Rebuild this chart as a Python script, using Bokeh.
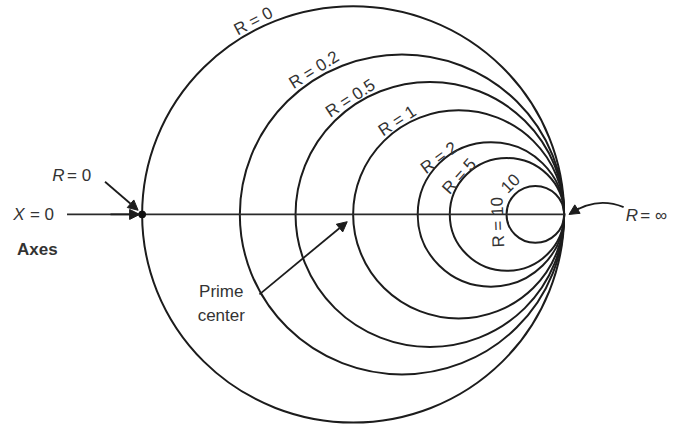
import numpy as np
from bokeh.plotting import figure
from bokeh.models import Range1d, Arrow, NormalHead, ColumnDataSource
from bokeh.core.properties import value
from bokeh.embed import file_html
from bokeh.resources import INLINE

# ---------------- data ----------------
# constant-resistance circles: all touch the axis at the right (R = inf point)
resistance = [0, 0.2, 0.5, 1, 2, 5, 10]
# left crossing of each circle with the X = 0 axis (normalised, outer circle = -1)
axis_crossing = [-1.0, -0.537, -0.273, 0.0, 0.306, 0.458, 0.727]
tangent_point = 1.0
circle_labels = ["R = 0", "R = 0.2", "R = 0.5", "R = 1", "R = 2", "R = 5", "R = 10"]
extra_label = "10"

# ---------------- layout / style ----------------
label_angle = [117, 121, 124, 123, 132, 141, 192]      # polar angle on the circle
label_gap = [0.042, 0.042, 0.037, 0.035, 0.020, 0.020, 0.045]
label_rot = [28, 32, 33, 33, 37, 48, 92]

FONT = value("Liberation Sans")
FS = value("17px")
TXT = "#333333"
INK = "#1c1c1c"

cx = [(a + tangent_point) / 2 for a in axis_crossing]
rr = [(tangent_point - a) / 2 for a in axis_crossing]

p = figure(width=675, height=424, output_backend="svg", toolbar_location=None,
           x_range=Range1d(-1.6713, 1.5278), y_range=Range1d(-1.0093, 1.0278),
           x_axis_location=None, y_axis_location=None, min_border=0,
           outline_line_color=None, background_fill_color="white")
p.grid.visible = False

# circles
src = ColumnDataSource(dict(x=cx, y=[0] * len(cx), w=[2 * r for r in rr]))
p.ellipse(x="x", y="y", width="w", height="w", source=src, fill_color=None,
          line_color=INK, line_width=2)

# axis line X = 0
p.line([-1.356, tangent_point], [0, 0], line_color="#2a2a2a", line_width=1.8)
p.scatter([axis_crossing[0]], [0], size=7, color="#111111")

# circle labels
lx, ly = [], []
for c, r, th, g in zip(cx, rr, label_angle, label_gap):
    t = np.radians(th)
    lx.append(c + (r + g) * np.cos(t))
    ly.append((r + g) * np.sin(t))
lsrc = ColumnDataSource(dict(x=lx, y=ly, text=circle_labels, a=label_rot))
p.text(x="x", y="y", text="text", angle="a", angle_units="deg", source=lsrc,
       text_font=FONT, text_font_size=FS, text_color=TXT,
       text_align="center", text_baseline="middle")
# second "10" on the innermost circle
t = np.radians(128.5)
p.text(x=[cx[-1] + (rr[-1] + 0.055) * np.cos(t)], y=[(rr[-1] + 0.055) * np.sin(t)],
       text=[extra_label], angle=45, angle_units="deg",
       text_font=FONT, text_font_size=FS, text_color=TXT,
       text_align="center", text_baseline="middle")

def head():
    return NormalHead(size=10, fill_color=INK, line_color=INK, line_width=1)

# arrows
p.add_layout(Arrow(end=head(), x_start=-1.15, y_start=0, x_end=-1.012, y_end=0,
                   line_color=INK, line_width=1.8))
p.add_layout(Arrow(end=head(), x_start=-1.176, y_start=0.157, x_end=-1.019, y_end=0.02,
                   line_color=INK, line_width=1.8))
p.add_layout(Arrow(end=head(), x_start=-0.444, y_start=-0.384, x_end=-0.028, y_end=-0.035,
                   line_color=INK, line_width=1.8))
p.quadratic(x0=[1.282], y0=[0.035], cx=[1.153], cy=[0.088], x1=[1.03], y1=[0.004],
            line_color=INK, line_width=1.8)
p.add_layout(Arrow(end=head(), x_start=1.07, y_start=0.03, x_end=1.023, y_end=0.0,
                   line_color=INK, line_width=1.8))

# outside texts
def txt(x, y, s, style="normal", align="left", size=FS):
    p.text(x=[x], y=[y], text=[s], text_font=FONT, text_font_size=size,
           text_font_style=style, text_color=TXT, text_align=align,
           text_baseline="middle")

txt(-1.426, 0.185, "R", "italic")
txt(-1.356, 0.185, "= 0")
txt(-1.611, 0.0, "X", "italic")
txt(-1.532, 0.0, "= 0")
txt(-1.593, -0.167, "Axes", "bold")
txt(-0.625, -0.370, "Prime", align="center")
txt(-0.625, -0.486, "center", align="center")
txt(1.292, -0.005, "R", "italic")
txt(1.361, -0.005, "= \u221e")

open("out.html", "w").write(file_html(p, INLINE))
